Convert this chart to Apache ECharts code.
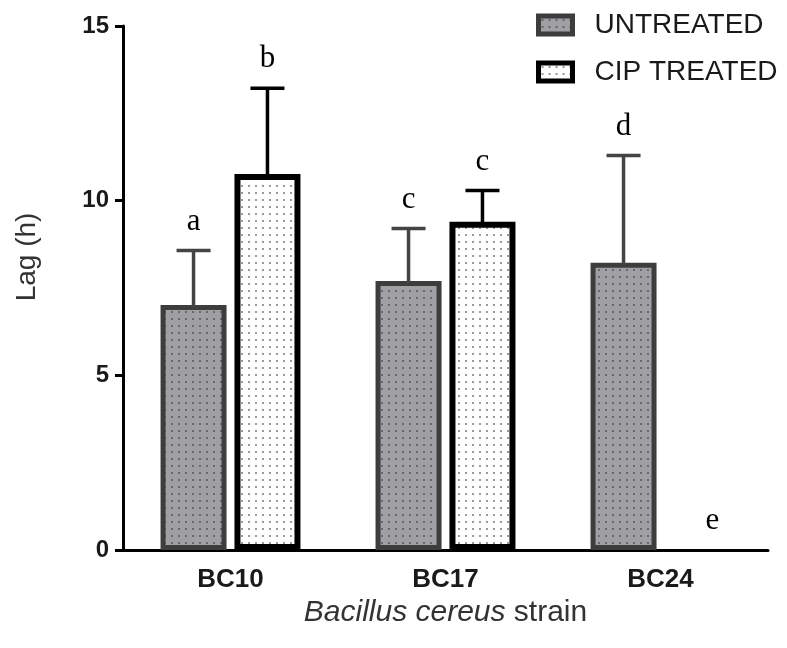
<!DOCTYPE html>
<html>
<head>
<meta charset="utf-8">
<script src="https://cdn.jsdelivr.net/npm/echarts@6/dist/echarts.min.js"></script>
<style>
html,body{margin:0;padding:0;background:#fff;}
#chart{width:787px;height:648px;}
</style>
</head>
<body>
<div id="chart"></div>
<script>
// ---- data ----
const categories = ['BC10', 'BC17', 'BC24'];
const untreated = [7.01, 7.70, 8.22];
const untreatedErr = [1.56, 1.50, 3.07];
const treated = [10.76, 9.40, 0];
const treatedErr = [2.46, 0.89, 0];
const untreatedLetters = ['a', 'c', 'd'];
const treatedLetters = ['b', 'c', 'e'];
const yTicks = [0, 5, 10, 15];
const seriesNames = ['UNTREATED', 'CIP TREATED'];

// ---- styles ----
const SANS = '"Liberation Sans", Arial, sans-serif';
const SERIF = '"Liberation Serif", "Times New Roman", serif';
const BAR_W = 66;
const GAP = 0.12;
const OFFSET = BAR_W * (1 + GAP) / 2;

function dotPattern(bg, dot) {
  const c = document.createElement('canvas');
  c.width = 7; c.height = 7;
  const g = c.getContext('2d');
  g.fillStyle = bg; g.fillRect(0, 0, 7, 7);
  g.fillStyle = dot; g.fillRect(3, 3, 2, 2);
  return c;
}
const untreatedFill = { image: dotPattern('#a0a0a4', '#68686c'), repeat: 'repeat' };
const treatedFill = { image: dotPattern('#ffffff', '#9a9a9a'), repeat: 'repeat' };

function errSeries(name, vals, errs, letters, side, color) {
  return {
    type: 'custom',
    name: name + '_err',
    z: 3,
    data: categories.map((c, i) => [i, vals[i], errs[i]]),
    renderItem: function (params, api) {
      const i = api.value(0), v = api.value(1), e = api.value(2);
      const base = api.coord([i, v]);
      const top = api.coord([i, v + e]);
      const x = base[0] + side * OFFSET;
      const children = [];
      if (e > 0) {
        children.push({ type: 'line', shape: { x1: x, y1: base[1] + 2, x2: x, y2: top[1] }, style: { stroke: color, lineWidth: 3.5 } });
        children.push({ type: 'line', shape: { x1: x - 17, y1: top[1], x2: x + 17, y2: top[1] }, style: { stroke: color, lineWidth: 3.5 } });
      }
      children.push({
        type: 'text',
        x: x + (v === 0 ? 15 : 0),
        y: top[1] - 29,
        style: { text: letters[params.dataIndex], font: '31px ' + SERIF, fill: '#000', align: 'center', verticalAlign: 'middle' }
      });
      return { type: 'group', children: children };
    }
  };
}

const chart = echarts.init(document.getElementById('chart'), null, { renderer: 'canvas' });
chart.setOption({
  animation: false,
  backgroundColor: '#fff',
  grid: { left: 123, right: 19, top: 26, bottom: 98, containLabel: false },
  legend: {
    data: seriesNames,
    orient: 'vertical',
    left: 531,
    top: 6,
    itemWidth: 34,
    itemHeight: 18,
    itemGap: 19,
    icon: 'rect',
    itemStyle: { borderWidth: 5 },
    textStyle: { fontSize: 28, fontFamily: SANS, color: '#1a1a1a', padding: [0, 0, 0, 17] }
  },
  xAxis: {
    type: 'category',
    data: categories,
    boundaryGap: true,
    axisLine: { lineStyle: { color: '#000', width: 3 } },
    axisTick: { alignWithLabel: true, length: 10, lineStyle: { color: '#000', width: 3 } },
    axisLabel: { fontSize: 26, fontWeight: 'bold', fontFamily: SANS, color: '#1a1a1a', margin: 17 },
    name: '{i|Bacillus cereus} strain',
    nameLocation: 'middle',
    nameGap: 47,
    nameTextStyle: {
      fontSize: 30, fontFamily: SANS, color: '#333',
      rich: { i: { fontSize: 30, fontFamily: SANS, fontStyle: 'italic', color: '#333' } }
    }
  },
  yAxis: {
    type: 'value',
    min: 0, max: 15, interval: 5,
    splitLine: { show: false },
    axisLine: { show: true, lineStyle: { color: '#000', width: 3 } },
    axisTick: { show: true, length: 8, lineStyle: { color: '#000', width: 3 } },
    axisLabel: { fontSize: 24, fontWeight: 'bold', fontFamily: SANS, color: '#1a1a1a', margin: 14,
      formatter: function (v) { return yTicks.indexOf(v) >= 0 ? String(v) : ''; } },
    name: 'Lag (h)',
    nameLocation: 'middle',
    nameGap: 82,
    nameTextStyle: { fontSize: 28, fontFamily: SANS, color: '#333', padding: [0, 0, 0, 62] }
  },
  series: [
    {
      type: 'bar', name: seriesNames[0],
      data: untreated,
      barWidth: BAR_W, barGap: (GAP * 100) + '%',
      itemStyle: { color: untreatedFill, borderColor: '#3d3d3d', borderWidth: 5 },
      z: 2
    },
    {
      type: 'bar', name: seriesNames[1],
      data: treated.map(v => v === 0 ? '-' : v),
      barWidth: BAR_W, barGap: (GAP * 100) + '%',
      itemStyle: { color: treatedFill, borderColor: '#000', borderWidth: 6 },
      z: 2
    },
    errSeries(seriesNames[0], untreated, untreatedErr, untreatedLetters, -1, '#444'),
    errSeries(seriesNames[1], treated, treatedErr, treatedLetters, 1, '#000')
  ]
});
</script>
</body>
</html>
